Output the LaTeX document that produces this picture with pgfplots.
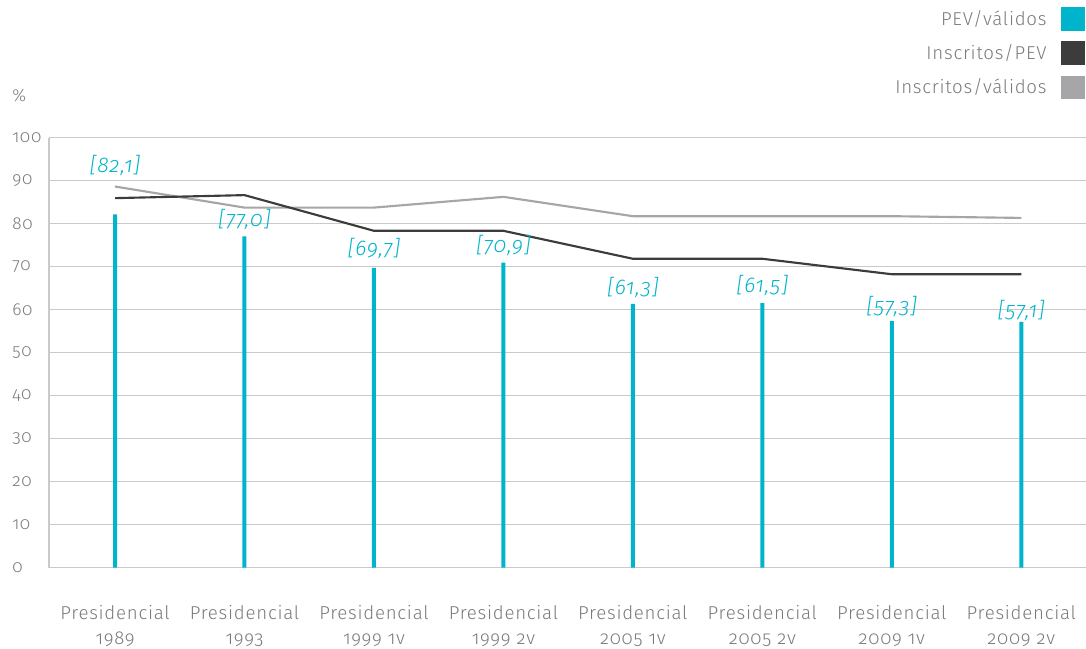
\documentclass[border=0pt]{standalone}
\usepackage{fontspec}
\setmainfont{Fira Sans}[UprightFont=* Light, ItalicFont=* Light Italic, Numbers=OldStyle, LetterSpace=4]
\usepackage{pgfplots}
\pgfplotsset{compat=1.18}
\definecolor{cpev}{HTML}{00B4CB}
\definecolor{cdark}{HTML}{3C3C3C}
\definecolor{cgray}{HTML}{A6A6A9}
\definecolor{cgrid}{HTML}{CACACA}
\definecolor{ctext}{HTML}{7A7A7A}
\begin{document}
\begin{tikzpicture}
\path[use as bounding box] (0pt,0pt) rectangle (814.5pt,-486.75pt);
\node[anchor=west, inner sep=0pt, text=ctext, font=\fontsize{13}{16}\selectfont] at (9pt,-72pt) {\%};
\begin{axis}[
  at={(36.75pt,-425.625pt)}, anchor=south west,
  scale only axis, width=777.75pt, height=322.5pt,
  xmin=-0.51, xmax=7.5, ymin=0, ymax=100,
  xtick={0,...,7},
  xticklabels={{Presidencial\\1989},{Presidencial\\1993},{Presidencial\\1999 1v},{Presidencial\\1999 2v},{Presidencial\\2005 1v},{Presidencial\\2005 2v},{Presidencial\\2009 1v},{Presidencial\\2009 2v}},
  ytick={0,10,...,100},
  /pgf/number format/assume math mode=true,
  ymajorgrids, grid style={cgrid, line width=0.8pt},
  axis x line*=bottom, axis y line*=left,
  axis line style={cgrid, line width=0.9pt},
  major tick length=0pt,
  tick label style={font=\fontsize{13}{18.75}\selectfont, text=ctext},
  xticklabel style={font=\fontsize{14}{18.75}\selectfont, align=center, anchor=center, yshift=-43.9pt},
  yticklabel style={anchor=west, inner sep=0pt, xshift=-27.75pt},
  clip=false,
  legend style={at={(1,1)}, anchor=north east, xshift=-0.75pt, yshift=97.9pt,
    draw=none, fill=none, inner sep=0pt, row sep=8pt, column sep=11pt,
    font=\fontsize{14}{16}\selectfont, text=ctext, nodes={inner sep=0pt}},
  legend cell align=right, legend plot pos=right,
]
\addlegendimage{legend image code/.code={\fill[cpev] (0pt,-8.6pt) rectangle (17.25pt,8.6pt);}}
\addlegendimage{legend image code/.code={\fill[cdark] (0pt,-8.6pt) rectangle (17.25pt,8.6pt);}}
\addlegendimage{legend image code/.code={\fill[cgray] (0pt,-8.6pt) rectangle (17.25pt,8.6pt);}}
\legend{PEV/válidos, Inscritos/PEV, Inscritos/válidos}
\addplot[ybar, bar width=3pt, bar shift=0pt, fill=cpev, draw=none]
  coordinates {(0,82.1) (1,77.0) (2,69.7) (3,70.9) (4,61.3) (5,61.5) (6,57.3) (7,57.1)};
\addplot[cgray, line width=1.6pt]
  coordinates {(0,88.6) (1,83.7) (2,83.7) (3,86.2) (4,81.7) (5,81.7) (6,81.7) (7,81.3)};
\addplot[cdark, line width=1.6pt]
  coordinates {(0,85.9) (1,86.6) (2,78.3) (3,78.3) (4,71.8) (5,71.8) (6,68.2) (7,68.2)};
\begin{scope}[every node/.style={font=\itshape\fontsize{16}{18}\selectfont, text=cpev, inner sep=0pt}]
\node at (axis cs:0,93.6) {[82,1]};
\node at (axis cs:1,81.0) {[77,0]};
\node at (axis cs:2,74.3) {[69,7]};
\node at (axis cs:3,74.8) {[70,9]};
\node at (axis cs:4,65.2) {[61,3]};
\node at (axis cs:5,65.5) {[61,5]};
\node at (axis cs:6,60.6) {[57,3]};
\node at (axis cs:7,59.7) {[57,1]};
\end{scope}
\end{axis}
\end{tikzpicture}
\end{document}
